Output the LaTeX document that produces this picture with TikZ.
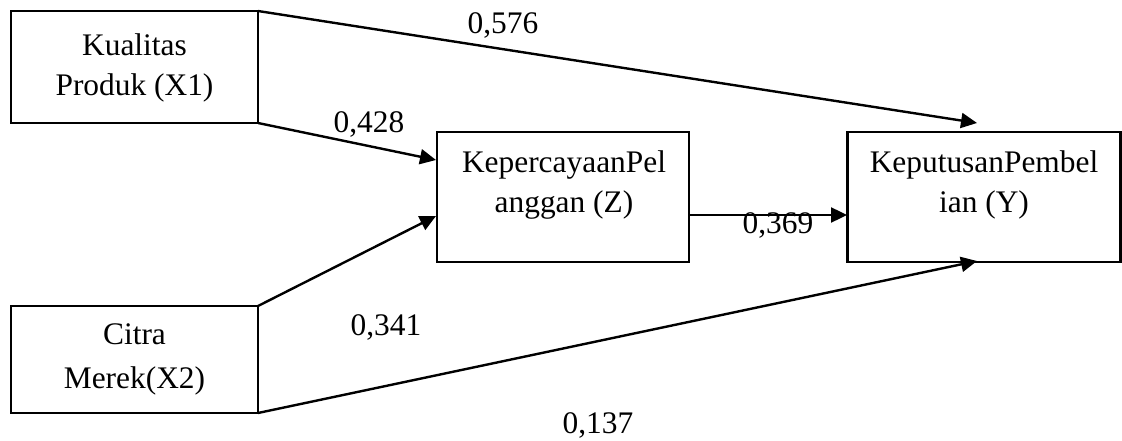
\documentclass[tikz,border=0pt]{standalone}
\usepackage{fontspec}
\setmainfont{Liberation Serif}
\usetikzlibrary{arrows.meta}
\begin{document}
\begin{tikzpicture}[x=1pt,y=-1pt,
  boxnode/.style={draw,line width=2.4pt,inner sep=0pt,outer sep=0pt},
  boxtext/.style={inner sep=0pt,align=center,anchor=north,
    font=\fontsize{31.4}{39.5}\selectfont},
  coef/.style={inner sep=0pt,anchor=base,font=\fontsize{31.4}{39.5}\selectfont},
  link/.style={line width=2.4pt,-{Triangle[length=16pt,width=15pt]}}]
  \useasboundingbox (0,0) rectangle (1122,441);
  % variable boxes
  \node[boxnode,minimum width=247pt,minimum height=112pt] (x1) at (134.5,67) {};
  \node[boxnode,minimum width=247pt,minimum height=107pt] (x2) at (134.5,359.5) {};
  \node[boxnode,minimum width=252pt,minimum height=130pt] (z) at (563,197) {};
  \node[boxnode,minimum width=273pt,minimum height=130pt] (y) at (984,197) {};
  % box captions
  \node[boxtext] (x1t) at (134.5,33.6) {Kualitas\\Produk (X1)};
  \node[boxtext] (x2t) at (134.5,323.6) {Citra\\[4.5pt]Merek(X2)};
  \node[boxtext] (zt) at (564,150.6) {KepercayaanPel\\anggan (Z)};
  \node[boxtext] (yt) at (984,150.6) {KeputusanPembel\\ian (Y)};
  % arrow end points
  \coordinate (ytop) at (977,123);
  \coordinate (ybot) at (977,261);
  \coordinate (zin1) at (436,160);
  \coordinate (zin2) at (436,216);
  \coordinate (zout) at (689,215);
  \coordinate (yin) at (847,215);
  % paths
  \draw[link] (x1.north east) -- (ytop);
  \draw[link] (x1.south east) -- (zin1);
  \draw[link] (x2.north east) -- (zin2);
  \draw[link] (x2.south east) -- (ybot);
  \draw[link] (zout) -- (yin);
  % path coefficients
  \node[coef] (c576) at (503,34) {0,576};
  \node[coef] (c428) at (369,133) {0,428};
  \node[coef] (c341) at (386,335) {0,341};
  \node[coef] (c137) at (598,433) {0,137};
  \node[coef] (c369) at (778,233) {0,369};
\end{tikzpicture}
\end{document}
